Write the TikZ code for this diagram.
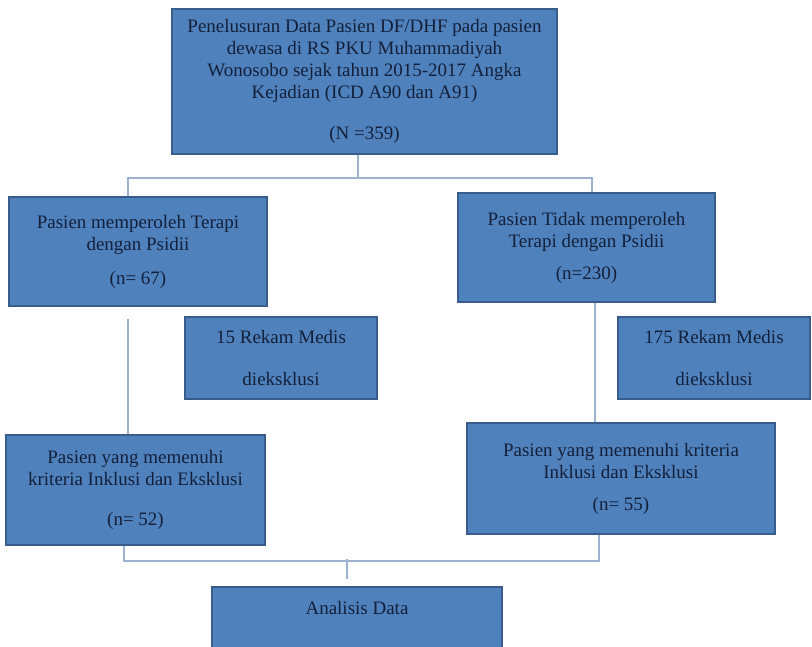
\documentclass[tikz,border=0pt]{standalone}
\usepackage{fontspec}
\setmainfont{Liberation Serif}
\usetikzlibrary{positioning, calc}
\definecolor{boxfill}{HTML}{4F81BD}
\definecolor{boxline}{HTML}{385D8A}
\definecolor{linkline}{HTML}{9DB2CE}
\definecolor{boxtext}{HTML}{142039}

\begin{document}
\begin{tikzpicture}[x=1pt,y=-1pt,every node/.style={rectangle,draw=boxline,fill=boxfill,line width=1.6pt,text=boxtext,align=center,inner sep=0pt,font=\fontsize{19}{22}\selectfont},
link/.style={draw=linkline,line width=1.8pt},
%scale=0.7, transform shape
]
\useasboundingbox (0,0) rectangle (812,646);

\node[minimum width=385pt,minimum height=145pt] (nData) at (364.5,81.5)
   {Penelusuran Data Pasien DF/DHF pada pasien\\ dewasa di RS PKU Muhammadiyah\\ Wonosobo sejak tahun 2015-2017 Angka\\ Kejadian (ICD A90 dan A91)\\[19pt] (N =359)};

\node[minimum width=258pt,minimum height=109pt] (nPsidi) at (138,251.5)
   {Pasien memperoleh Terapi\\ dengan Psidii\\[12pt] (n= 67)};
\node[minimum width=257pt,minimum height=109pt] (nNoPsidi) at (586.5,247.5)
   {Pasien Tidak memperoleh\\ Terapi dengan Psidii\\[10pt] (n=230)};

\node[minimum width=192pt,minimum height=82pt] (nExL) at (281,358)
   {15 Rekam Medis\\[20pt] dieksklusi};
\node[minimum width=192pt,minimum height=82pt] (nExR) at (714,358)
   {175 Rekam Medis\\[20pt] dieksklusi};

\node[minimum width=259pt,minimum height=110pt] (nInL) at (135.5,490)
   {Pasien yang memenuhi\\ kriteria Inklusi dan Eksklusi\\[18pt] (n= 52)};
\node[minimum width=308pt,minimum height=111pt] (nInR) at (621,478.5)
   {Pasien yang memenuhi kriteria\\ Inklusi dan Eksklusi\\[10pt] (n= 55)};

\node[minimum width=290pt,minimum height=64pt] (nAnalisis) at (357,619)
   {Analisis Data\\ \mbox{}};

% percabangan atas
\draw[link] ($(nData.south)+(-6.5,0)$) -- ++(0,23) -| ($(nPsidi.north)+(-10,0)$);
\draw[link] ($(nData.south)+(-6.5,23)$) -| ($(nNoPsidi.north)+(5.5,0)$);
% jalur kiri dan kanan
\draw[link] ($(nPsidi.south)+(-10,12)$) -- ($(nInL.north)+(-7.5,0)$);
\draw[link] ($(nNoPsidi.south)+(8.5,0)$) -- ($(nInR.north)+(-26,0)$);
% penggabungan bawah
\draw[link] ($(nInL.south)+(-11.5,0)$) -- ++(0,15) -| ($(nInR.south)+(-22,0)$);
\draw[link] ($(nAnalisis.north)+(-10,-27)$) -- ($(nAnalisis.north)+(-10,-7)$);
\end{tikzpicture}
\end{document}
